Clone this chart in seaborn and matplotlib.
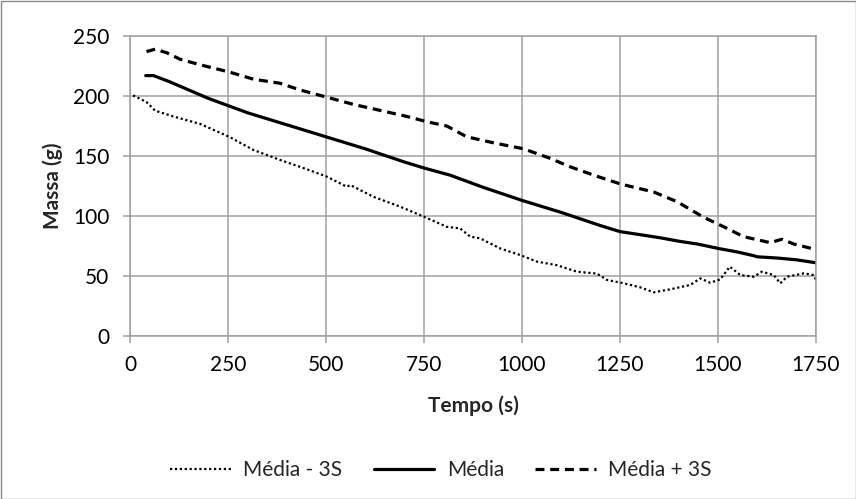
import numpy as np
import pandas as pd
import seaborn as sns
import matplotlib
matplotlib.use("Agg")
import matplotlib.pyplot as plt
from matplotlib.patches import Rectangle

# Data
t_media = [40, 60, 100, 150, 200, 250, 300, 400, 500, 600, 700, 750, 817, 900,
           1000, 1100, 1200, 1250, 1350, 1400, 1450, 1500, 1550, 1590, 1600, 1650, 1700, 1750]
v_media = [217, 217, 212, 205, 198, 192, 186, 176, 166, 156, 145, 140, 134, 124,
           113, 103, 92, 87, 82, 79, 76.5, 73, 70, 67, 66, 65, 63.5, 61]

t_mais = [42, 64, 94, 128, 179, 253, 315, 383, 434, 502, 570, 638, 706, 757, 808,
          859, 927, 1004, 1072, 1123, 1183, 1251, 1336, 1395, 1463, 1523, 1565,
          1633, 1663, 1693, 1750]
v_mais = [237, 239, 236, 230.6, 226, 220, 214, 210.6, 205, 199, 193, 188, 183, 178.6, 175,
          166, 161, 156, 148, 141, 134, 126.7, 120, 112, 99, 89.7, 82.8,
          77.8, 80.6, 76.7, 72]

t_menos = [8, 42, 64, 110, 179, 253, 315, 383, 451, 502, 553, 562, 621, 689, 750, 808,
           842, 868, 893, 927, 944, 995, 1038, 1089, 1140, 1191, 1217, 1259, 1302, 1336,
           1378, 1429, 1455, 1480, 1506, 1530, 1557, 1591, 1612, 1642, 1659, 1676,
           1719, 1744, 1750]
v_menos = [200.5, 195, 187.8, 183, 176.7, 166, 155, 146.7, 139, 132.8, 124.4, 125.8, 116,
           107.8, 99.4, 91, 89.7, 82.8, 81.4, 75.8, 73, 67.5, 62, 59, 53.6, 52, 46.7, 44,
           40.5, 36.4, 38.9, 42.5, 48, 44.4, 47.2, 57.8, 50.8, 49.4, 53.6, 50.8, 43.9,
           49.4, 52.2, 50.8, 46.7]

x_ticks = [0, 250, 500, 750, 1000, 1250, 1500, 1750]
y_ticks = [0, 50, 100, 150, 200, 250]

sns.set_theme(style="white")
plt.rcParams['font.family'] = ['Lato', 'DejaVu Sans']

W, H = 856, 499
fig = plt.figure(figsize=(W/100, H/100), dpi=100)
ax = fig.add_axes([130/W, 1-336/H, (816-130)/W, (336-36)/H])

df_menos = pd.DataFrame({"t": t_menos, "v": v_menos})
df_media = pd.DataFrame({"t": t_media, "v": v_media})
df_mais = pd.DataFrame({"t": t_mais, "v": v_mais})

sns.lineplot(data=df_menos, x="t", y="v", ax=ax, color="black", lw=1.6,
             linestyle=(0, (1, 1.2)), label="Média - 3S", estimator=None, sort=False)
sns.lineplot(data=df_media, x="t", y="v", ax=ax, color="black", lw=2.3,
             label="Média", estimator=None, sort=False)
sns.lineplot(data=df_mais, x="t", y="v", ax=ax, color="black", lw=2.3,
             linestyle=(0, (2.8, 1.8)), label="Média + 3S", estimator=None, sort=False)

ax.set_xlim(0, 1750)
ax.set_ylim(0, 250)
ax.set_xticks(x_ticks)
ax.set_yticks(y_ticks)
ax.grid(True, color="#a0a0a0", lw=1.1)
for s in ax.spines.values():
    s.set_color("#a0a0a0")
    s.set_linewidth(1.1)
ax.tick_params(axis="both", which="major", direction="out", length=5, width=1.1,
               color="#a0a0a0", labelsize=15, labelcolor="black")
ax.tick_params(axis="x", pad=9)
ax.tick_params(axis="y", pad=10)
ax.tick_params(axis="both", bottom=True, left=True)
ax.set_xlabel("Tempo (s)", fontsize=15, fontweight="bold")
ax.set_ylabel("Massa (g)", fontsize=15, fontweight="bold")
ax.xaxis.set_label_coords(0.5, (336-406)/300)
ax.xaxis.label.set_va("center")
ax.yaxis.set_label_coords((52.5-130)/686, 0.5)
ax.yaxis.label.set_va("center")

ax.legend(loc="center", bbox_to_anchor=(441/W, 1-470/H), bbox_transform=fig.transFigure,
          ncol=3, frameon=False, fontsize=15, handlelength=2.9, columnspacing=1.5,
          handletextpad=0.6, borderpad=0)

fig.patches.append(Rectangle((0.5/W, 0.5/H), 1-1/W, 1-1/H, transform=fig.transFigure,
                             fill=False, edgecolor="#888888", lw=1.0))

fig.savefig("out.png", dpi=100)
